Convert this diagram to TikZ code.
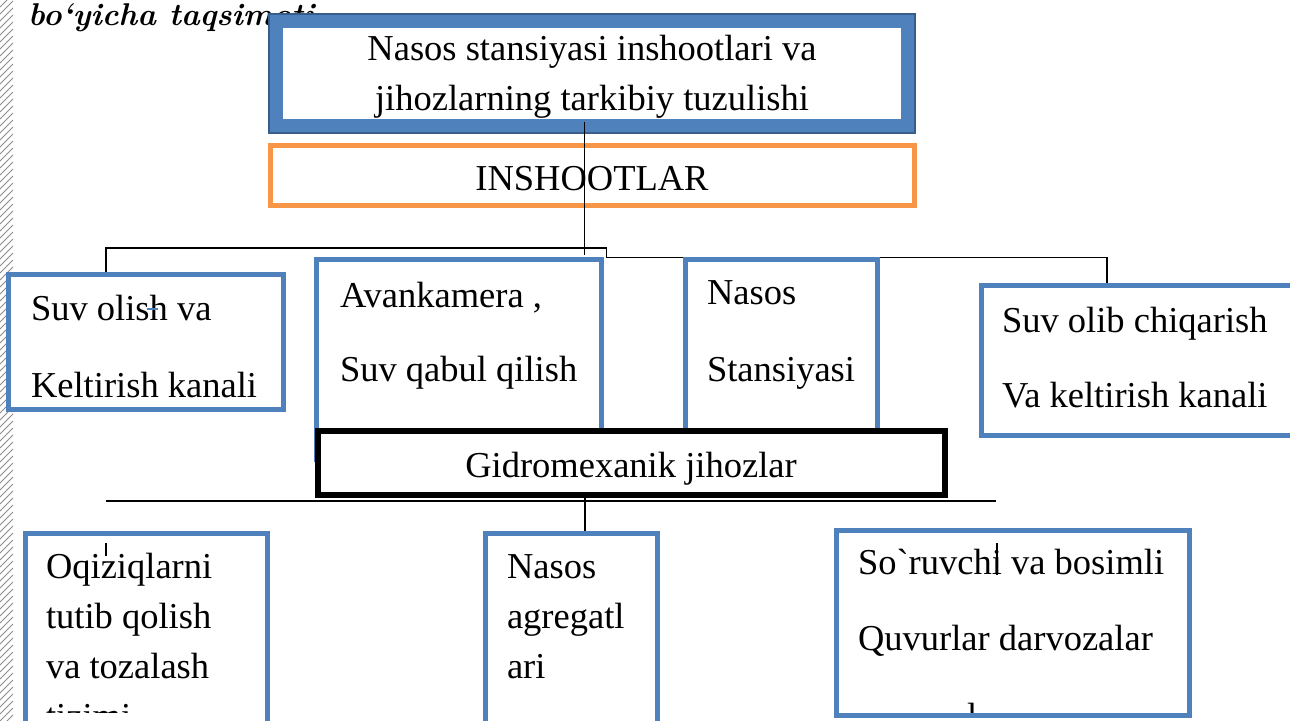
\documentclass[tikz,border=0pt]{standalone}
\usepackage{fontspec}
\setmainfont{Liberation Serif}
\newfontfamily\lmheadfont{Latin Modern Roman}
\definecolor{bblue}{HTML}{4F81BD}
\definecolor{dblue}{HTML}{385D8A}
\definecolor{borange}{HTML}{F79646}
\newcommand\fsbig{\fontsize{36.5}{40}\selectfont}
\newcommand\rawgrave{{\addfontfeature{Ligatures=TeXOff}\symbol{96}}}
\begin{document}
\begin{tikzpicture}[x=1pt,y=-1pt,
  box/.style={draw, fill=white, rectangle, inner sep=0pt, outer sep=0pt},
  bluebox/.style={box, draw=bblue, line width=5pt},
  txt/.style={inner sep=0pt, outer sep=0pt, anchor=base west, font=\fsbig},
  ctxt/.style={inner sep=0pt, outer sep=0pt, anchor=base, font=\fsbig},
  conn/.style={draw=black, line width=1.4pt},
  deco/.style={draw=black!45, line width=0.8pt}]
\clip (0,0) rectangle (1290,720);
\fill[white] (0,0) rectangle (1290,720);
% left decorative strip
\begin{scope}
  \clip (0,0) rectangle (13,720);
  \foreach \k in {0,7,...,740} {
    \draw[deco] (0,\k) -- (13,\k-13);
  }
\end{scope}
% heading (partly hidden behind the title box)
\node[inner sep=0pt, anchor=base west, font=\lmheadfont\fontsize{31.5}{34}\selectfont\bfseries\itshape] (head) at (28,25) {bo‘yicha taqsimoti};
% title box
\node[box, draw=bblue, line width=15pt, minimum width=633pt, minimum height=106pt] (top) at (592,73.5) {};
\draw[dblue, line width=2pt] ([shift={(-6.5,-6.5)}]top.north west) rectangle ([shift={(6.5,6.5)}]top.south east);
\node[ctxt] (top1) at (592,60) {Nasos stansiyasi inshootlari va};
\node[ctxt] (top2) at (592,110) {jihozlarning tarkibiy tuzulishi};
% INSHOOTLAR box
\node[box, draw=borange, line width=5pt, minimum width=644pt, minimum height=60pt] (insh) at (592.5,175.5) {};
\node[ctxt] (inshT) at (592,190) {INSHOOTLAR};
% connector coordinates
\coordinate (c0) at (584.5,122);
\coordinate (c1) at (584.5,255);
\coordinate (h1) at (106,272);
\coordinate (h2) at (106,248);
\coordinate (h3) at (606.5,248);
\coordinate (h4) at (606.5,257.5);
\coordinate (h5) at (1107,257.5);
\coordinate (h6) at (1107,284);
\draw[conn] (c0) -- (c1);
\draw[conn] (h1) -- (h2) -- (h3) -- (h4) -- (h5) -- (h6);
% middle row boxes
\node[bluebox, minimum width=275pt, minimum height=135pt] (b1) at (146,342) {};
\node[bluebox, minimum width=285pt, minimum height=200pt] (b2) at (459,359.5) {};
\node[bluebox, minimum width=192pt, minimum height=200pt] (b3) at (781.5,359.5) {};
\node[bluebox, minimum width=320pt, minimum height=150pt] (b4) at (1141.5,360.5) {};
\node[txt] (b1a) at (31,320) {Suv olish va};
\node[txt] (b1b) at (31,397) {Keltirish kanali};
\draw[bblue, line width=1.2pt] (b1a.base west) ++(116,-11) coordinate (tk1) -- ++(11,0) coordinate (tk2);
\node[txt] (b2a) at (340,307) {Avankamera ,};
\node[txt] (b2b) at (340,381) {Suv qabul qilish};
\node[txt] (b3a) at (707,304) {Nasos};
\node[txt] (b3b) at (707,381) {Stansiyasi};
\node[txt] (b4a) at (1002,332) {Suv olib chiqarish};
\node[txt] (b4b) at (1002,407) {Va keltirish kanali};
% Gidromexanik box
\node[box, draw=black, line width=6pt, minimum width=627pt, minimum height=64pt] (gid) at (631.5,463) {};
\node[ctxt] (gidT) at (631,477) {Gidromexanik jihozlar};
% bottom connectors
\coordinate (g1) at (106,500.7);
\coordinate (g2) at (996,500.7);
\coordinate (g3) at (585,498);
\coordinate (g4) at (585,532);
\draw[black, line width=2pt] (g1) -- (g2);
\draw[conn] (g3) -- (g4);
% bottom boxes
\node[bluebox, minimum width=242pt, minimum height=230pt] (ba) at (146.5,648.5) {};
\node[bluebox, minimum width=172pt, minimum height=230pt] (bb) at (571.5,648.5) {};
\node[bluebox, minimum width=353pt, minimum height=185pt] (bc) at (1013,623) {};
\node[txt] (baa) at (46,578) {Oqiziqlarni};
\node[txt] (bab) at (46,628) {tutib qolish};
\node[txt] (bac) at (46,678) {va tozalash};
\node[txt] (bba) at (507,578) {Nasos};
\node[txt] (bbb) at (507,628) {agregatl};
\node[txt] (bbc) at (507,678) {ari};
\node[txt] (bca) at (858,574) {So\rawgrave ruvchi va bosimli};
\node[txt] (bcb) at (858,650) {Quvurlar darvozalar};
\begin{scope}
  \clip (0,0) rectangle (1290,712);
  \node[txt] (bad) at (46,728) {tizimi};
  \node[txt] (bcc) at (967,728) {l};
\end{scope}
% stray ticks inside boxes
\coordinate (k1) at (106,543);
\coordinate (k2) at (106,556);
\coordinate (k3) at (997,543);
\coordinate (k4) at (997,575);
\draw[black, line width=1.2pt] (k1) -- (k2);
\draw[black, line width=1.2pt] (k3) -- (k4);
\end{tikzpicture}
\end{document}
